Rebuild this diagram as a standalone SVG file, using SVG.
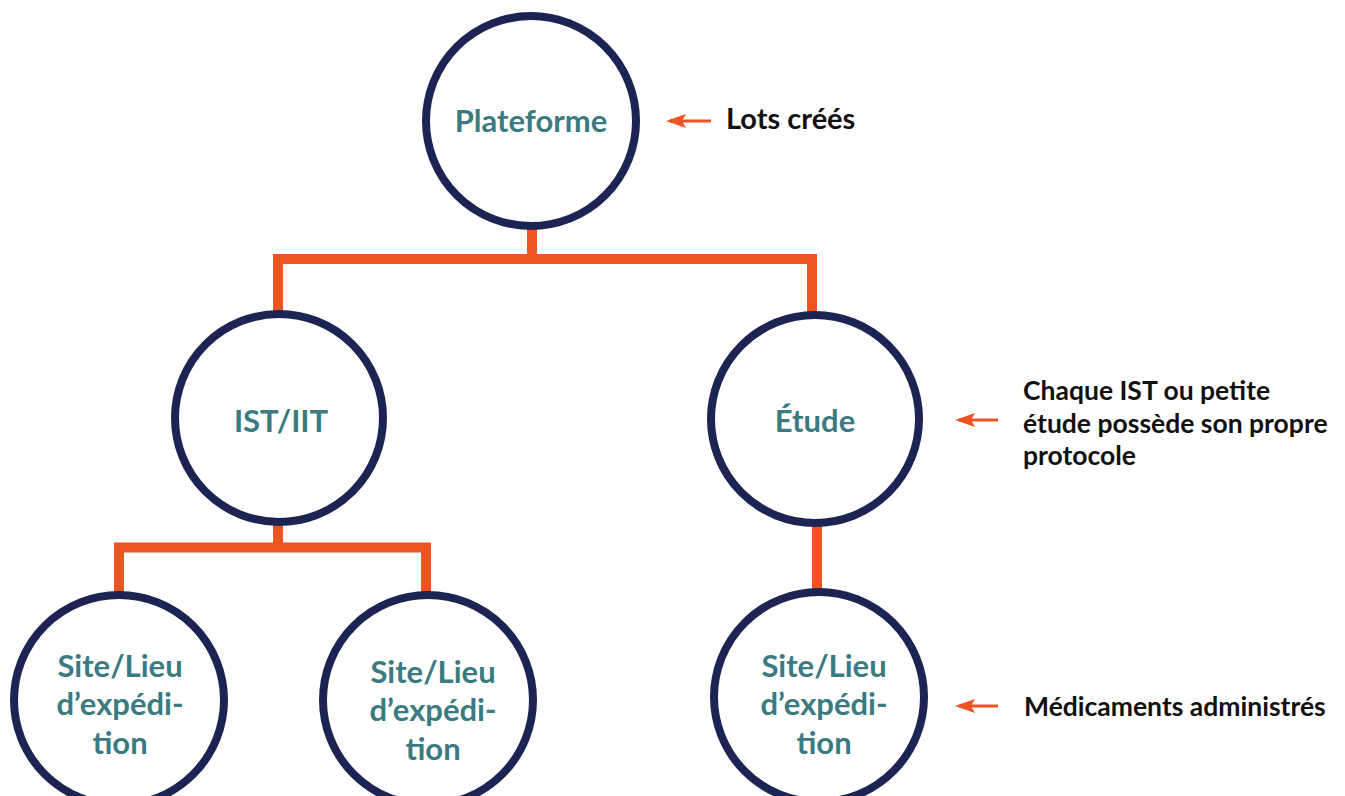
<svg xmlns="http://www.w3.org/2000/svg" width="1345" height="796" viewBox="0 0 1345 796">
<style>
.node{fill:#fff;stroke:#1c2453;stroke-width:8}
.lbl{font-family:Lato,"Noto Sans",sans-serif;font-weight:bold;font-size:31px;fill:#3a7b81;text-anchor:middle}
.conn{fill:none;stroke:#ee5322;stroke-width:10;stroke-linecap:butt;stroke-linejoin:miter}
.ann{fill:none;stroke:#ee5322;stroke-width:3}
.note{font-family:Lato,"Noto Sans",sans-serif;font-weight:bold;font-size:26.5px;fill:#111}
</style>
<rect width="1345" height="796" fill="#fff"/>
<g id="connectors">
<path class="conn" d="M532,225 V259 M278,315 V259 H812 V315"/>
<path class="conn" d="M278,522 V547.5 M119,594 V547.5 H426 V594"/>
<path class="conn" d="M817,522 V590"/>
<line class="ann" x1="711" y1="121" x2="670" y2="121"/>
<path d="M666,121 L686,114 L682,121 L686,128 Z" fill="#ee5322"/>
<line class="ann" x1="998" y1="420" x2="959" y2="420"/>
<path d="M955,420 L975,413 L971,420 L975,427 Z" fill="#ee5322"/>
<line class="ann" x1="998" y1="706" x2="959" y2="706"/>
<path d="M955,706 L975,699 L971,706 L975,713 Z" fill="#ee5322"/>
</g>
<g id="plateforme">
<circle class="node" cx="531" cy="121" r="105"/>
<text class="lbl" x="531" y="132">Plateforme</text>
</g>
<g id="ist">
<circle class="node" cx="279" cy="418" r="104"/>
<text class="lbl" x="281" y="432">IST/IIT</text>
</g>
<g id="etude">
<circle class="node" cx="815" cy="419" r="104"/>
<text class="lbl" x="815" y="432">Étude</text>
</g>
<g id="site1">
<circle class="node" cx="119" cy="700" r="105"/>
<text class="lbl" x="120" y="677">Site/Lieu</text>
<text class="lbl" x="120" y="715">d’expédi-</text>
<text class="lbl" x="120" y="754">tion</text>
</g>
<g id="site2">
<circle class="node" cx="428" cy="700" r="105"/>
<text class="lbl" x="433" y="683">Site/Lieu</text>
<text class="lbl" x="433" y="721">d’expédi-</text>
<text class="lbl" x="433" y="760">tion</text>
</g>
<g id="site3">
<circle class="node" cx="819" cy="697" r="105"/>
<text class="lbl" x="824" y="677">Site/Lieu</text>
<text class="lbl" x="824" y="715">d’expédi-</text>
<text class="lbl" x="824" y="754">tion</text>
</g>
<g id="notes">
<text class="note" x="726" y="128.5" style="font-size:29px">Lots créés</text>
<text class="note" x="1023" y="400">Chaque IST ou petite</text>
<text class="note" x="1023" y="433">étude possède son propre</text>
<text class="note" x="1023" y="465">protocole</text>
<text class="note" x="1024" y="716">Médicaments administrés</text>
</g>
</svg>
